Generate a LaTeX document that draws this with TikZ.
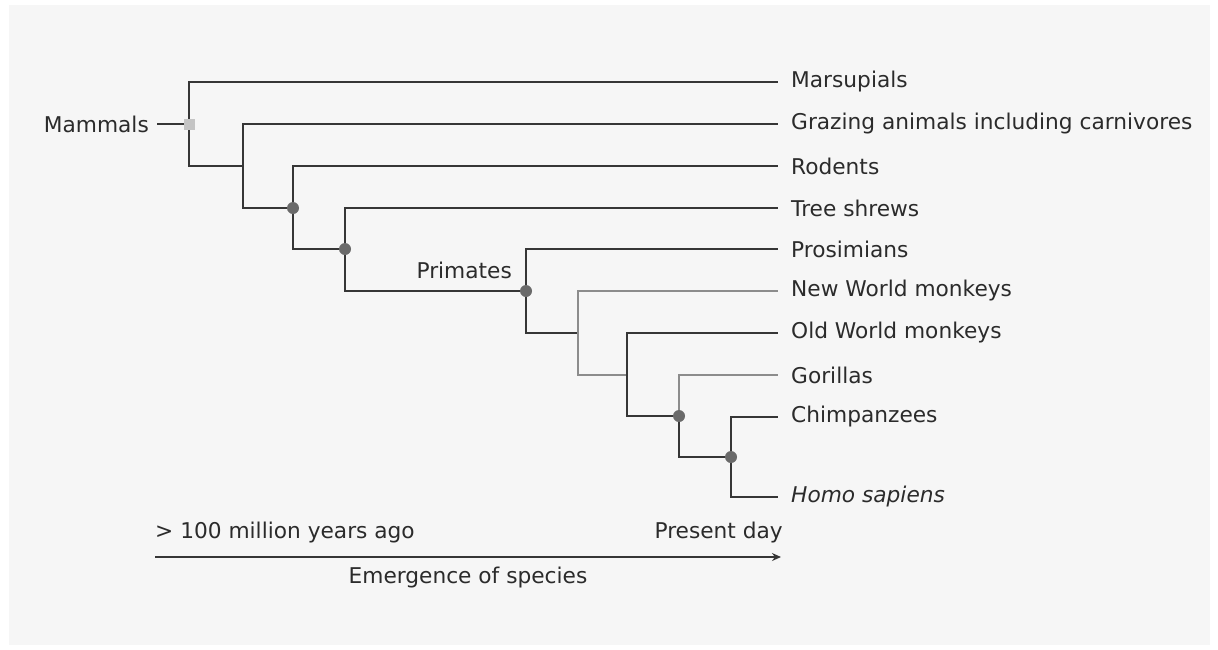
\documentclass[tikz,border=0pt]{standalone}
\usepackage{fontspec}
\setmainfont{DejaVu Sans}
\usetikzlibrary{arrows.meta}
\definecolor{panel}{HTML}{F6F6F6}
\definecolor{ink}{HTML}{2B2B2B}
\definecolor{branch}{HTML}{363636}
\definecolor{lightbranch}{HTML}{8C8C8C}
\definecolor{dotgray}{HTML}{6A6A6A}
\definecolor{rootdot}{HTML}{C4C4C4}
\tikzset{
  txt/.style={text=ink, font=\fontsize{21.7}{26}\selectfont, inner sep=0pt},
  leaf/.style={txt, anchor=west, inner xsep=13pt},
  br/.style={draw=branch, line width=2.4pt},
  lbr/.style={draw=lightbranch, line width=2.4pt},
  junc/.style={circle, fill=dotgray, minimum size=12pt, inner sep=0pt},
  rjunc/.style={rectangle, fill=rootdot, minimum size=11pt, inner sep=0pt},
}
\begin{document}
\begin{tikzpicture}[x=1pt,y=-1pt]
\useasboundingbox (0,0) rectangle (1218,649);
\fill[white] (0,0) rectangle (1218,649);
\fill[panel] (9,5) rectangle (1210,645);

% junction coordinates
\coordinate (r) at (189,124);
\coordinate (n2) at (243,166);
\coordinate (n3) at (293,208);
\coordinate (n4) at (345,249);
\coordinate (n5) at (526,291);
\coordinate (n6) at (578,333);
\coordinate (n7) at (627,375);
\coordinate (n8) at (679,416);
\coordinate (n9) at (731,457);

% leaves
\node[leaf] (mar) at (778,82) {Marsupials};
\node[leaf] (gra) at (778,124) {Grazing animals including carnivores};
\node[leaf] (rod) at (778,166) {Rodents};
\node[leaf] (tre) at (778,208) {Tree shrews};
\node[leaf] (pro) at (778,249) {Prosimians};
\node[leaf] (nwm) at (778,291) {New World monkeys};
\node[leaf] (owm) at (778,333) {Old World monkeys};
\node[leaf] (gor) at (778,375) {Gorillas};
\node[leaf] (chi) at (778,417) {Chimpanzees};
\node[leaf] (hom) at (778,497) {\itshape Homo sapiens};

% group labels
\node[txt, anchor=east, inner xsep=8pt] (mam) at (157,124) {Mammals};
\node[txt, anchor=east] (pri) at (512,270) {Primates};

% branches
\draw[br] (mam) -- (r);
\draw[br] (r) |- (mar.west);
\draw[br] (r) |- (n2);
\draw[br] (n2) |- (gra.west);
\draw[br] (n2) |- (n3);
\draw[br] (n3) |- (rod.west);
\draw[br] (n3) |- (n4);
\draw[br] (n4) |- (tre.west);
\draw[br] (n4) |- (n5);
\draw[br] (n5) |- (pro.west);
\draw[br] (n5) |- (n6);
\draw[lbr] (n6) |- (nwm.west);
\draw[lbr] (n6) |- (n7);
\draw[br] (n7) |- (owm.west);
\draw[br] (n7) |- (n8);
\draw[lbr] (n8) |- (gor.west);
\draw[br] (n8) |- (n9);
\draw[br] (n9) |- (chi.west);
\draw[br] (n9) |- (hom.west);

% junction dots
\node[rjunc] (dr) at (r) {};
\node[junc] (d3) at (n3) {};
\node[junc] (d4) at (n4) {};
\node[junc] (d5) at (n5) {};
\node[junc] (d8) at (n8) {};
\node[junc] (d9) at (n9) {};

% time axis
\coordinate (axL) at (155,557);
\coordinate (axR) at (781,557);
\draw[draw=branch, line width=2.2pt, -{Stealth[length=9pt,width=8pt]}] (axL) -- (axR);
\node[txt, anchor=west] (old) at (155,533) {> 100 million years ago};
\node[txt, anchor=east] (now) at (783,533) {Present day};
\node[txt] (eme) at (468,578) {Emergence of species};
\end{tikzpicture}
\end{document}
